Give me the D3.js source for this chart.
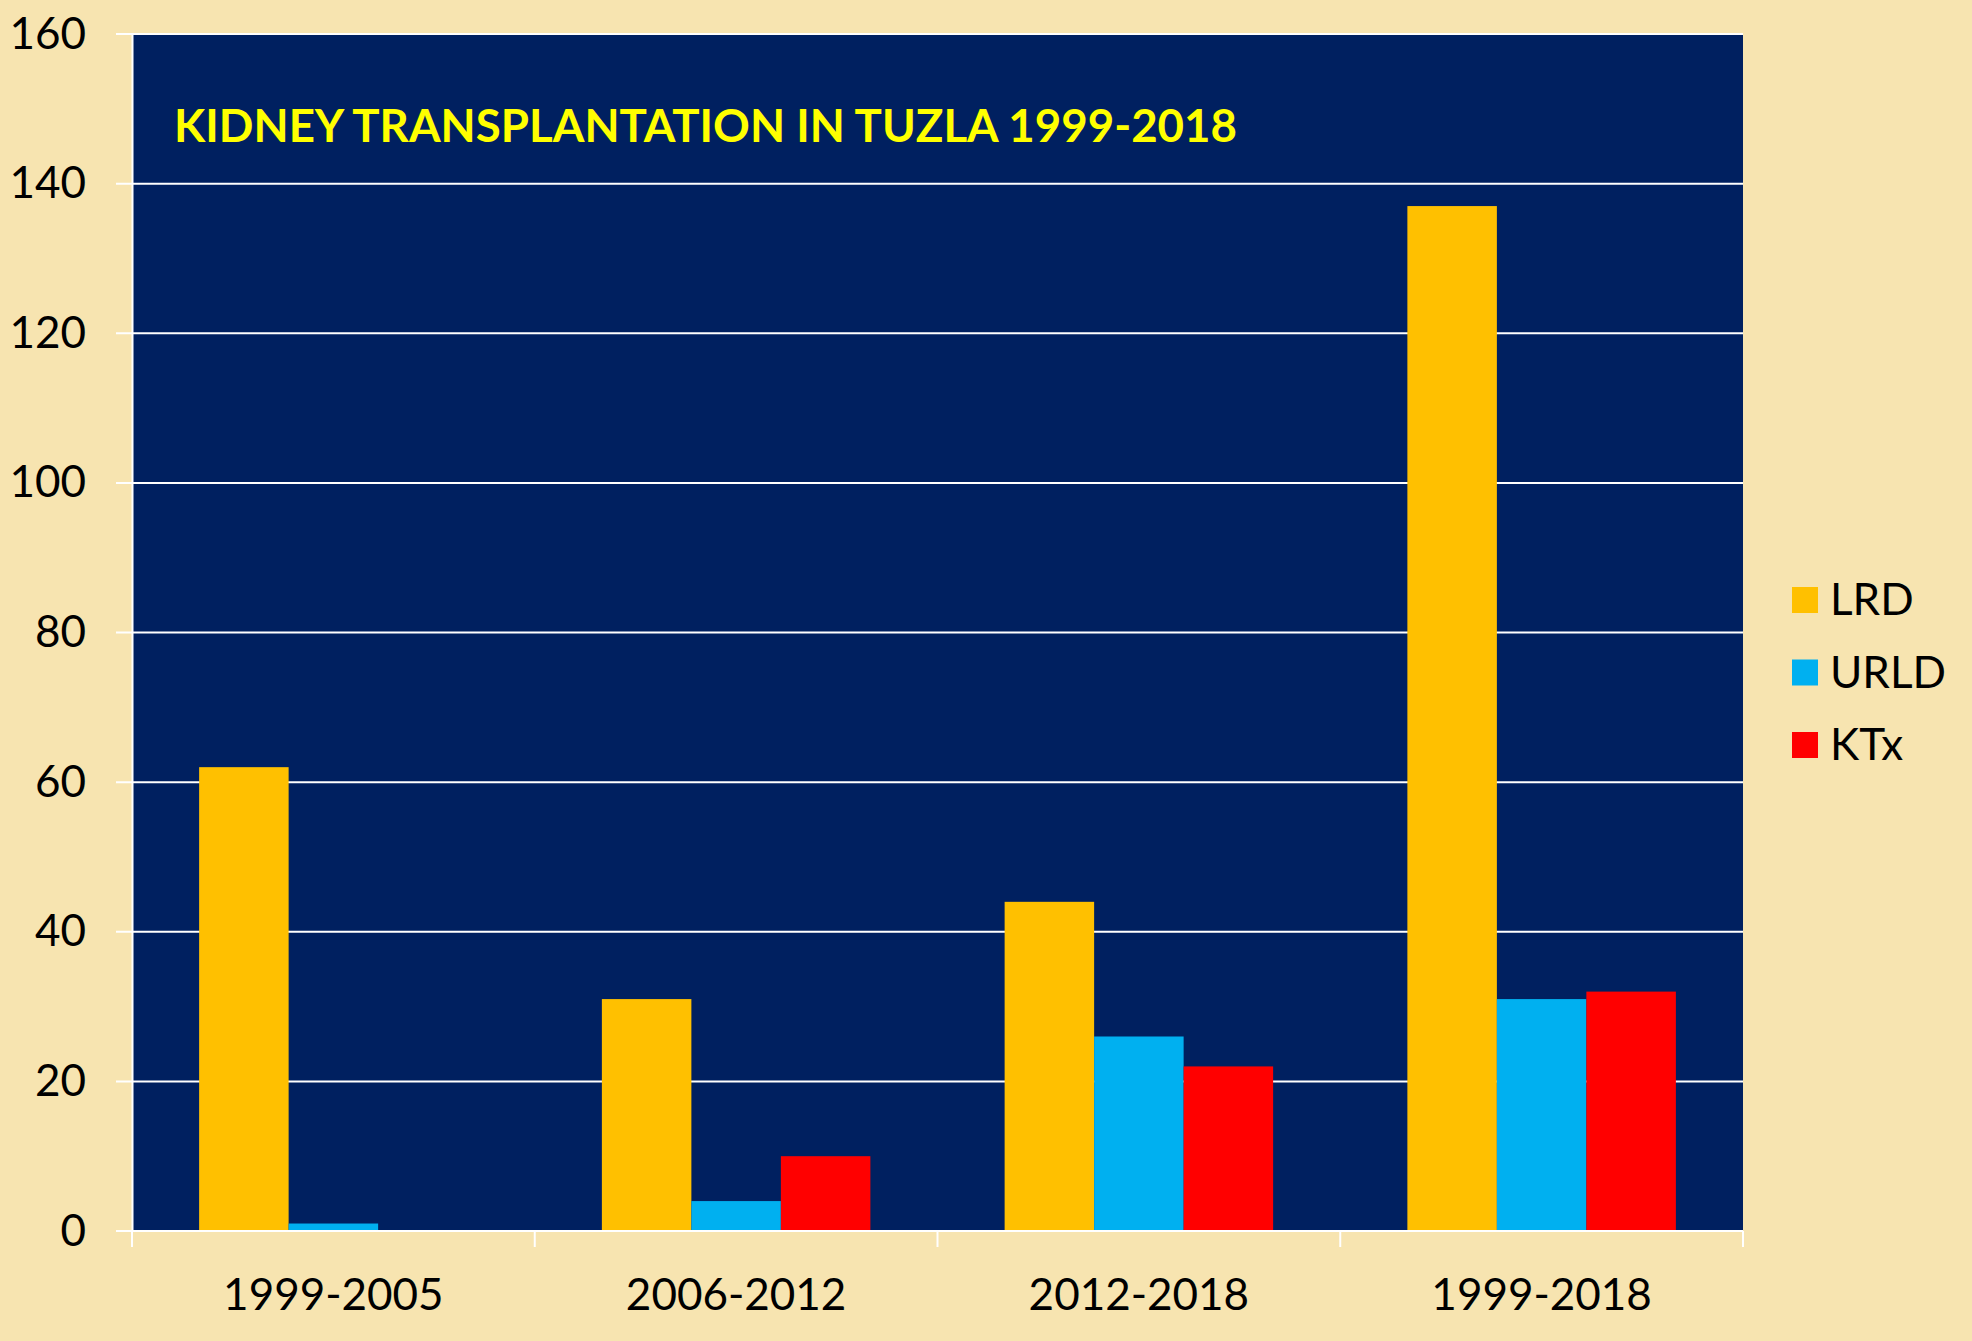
<!DOCTYPE html>
<html>
<head>
<meta charset="utf-8">
<script src="https://cdn.jsdelivr.net/npm/d3@7"></script>
<style>
  body { margin: 0; background: #F7E4B0; }
  svg { display: block; }
  text { font-family: Lato, "Open Sans", sans-serif; }
</style>
</head>
<body>
<script>
// data
var categories = ['1999-2005', '2006-2012', '2012-2018', '1999-2018'];
var series = ['LRD', 'URLD', 'KTx'];
var lrd = [62, 31, 44, 137];
var urld = [1, 4, 26, 31];
var ktx = [0, 10, 22, 32];
var yTicks = [0, 20, 40, 60, 80, 100, 120, 140, 160];
var title = 'KIDNEY TRANSPLANTATION IN TUZLA 1999-2018';

var colors = ['#FFC000', '#00B0F0', '#FF0000'];

const W = 1972, H = 1341;
const margin = { top: 34, right: 229, bottom: 110, left: 132 };
const width = W - margin.left - margin.right;
const height = H - margin.top - margin.bottom;

var values = [lrd, urld, ktx];
var rows = categories.map(function (c, i) {
	return { cat: c, vals: series.map(function (s, j) { return { key: s, idx: j, v: values[j][i] }; }) };
});

const x0 = d3.scaleBand().domain(categories).range([0, width]).padding(0);
const x1 = d3.scaleBand().domain(series)
	.range([x0.bandwidth() / 6, x0.bandwidth() * 5 / 6]);
const y = d3.scaleLinear().domain([0, 160]).range([height, 0]);

const svg = d3.select('body').append('svg')
	.attr('width', W)
	.attr('height', H);

svg.append('rect').attr('width', W).attr('height', H).attr('fill', '#F7E4B0');

const g = svg.append('g')
	.attr('transform', 'translate(' + margin.left + ',' + margin.top + ')');

// plot area
g.append('rect')
	.attr('width', width)
	.attr('height', height)
	.attr('fill', '#002060');

// gridlines with ticks sticking out to the left
g.selectAll('.grid')
	.data(yTicks)
	.enter()
	.append('line')
	.attr('class', 'grid')
	.attr('x1', -16)
	.attr('x2', width)
	.attr('y1', function (d) { return y(d); })
	.attr('y2', function (d) { return y(d); })
	.attr('stroke', '#ffffff')
	.attr('stroke-width', 2);

// bars
const groups = g.selectAll('.cat')
	.data(rows)
	.enter()
	.append('g')
	.attr('class', 'cat')
	.attr('transform', function (d) { return 'translate(' + x0(d.cat) + ',0)'; });

groups.selectAll('rect')
	.data(function (d) { return d.vals; })
	.enter()
	.append('rect')
	.attr('x', function (d) { return x1(d.key); })
	.attr('width', x1.bandwidth())
	.attr('y', function (d) { return y(d.v); })
	.attr('height', function (d) { return height - y(d.v); })
	.attr('fill', function (d) { return colors[d.idx]; });

// y axis
const yAxis = d3.axisLeft(y).tickValues(yTicks).tickSize(0).tickPadding(46);
const ya = g.append('g').call(yAxis);
ya.select('.domain').attr('stroke', '#ffffff').attr('stroke-width', 2);
ya.selectAll('text')
	.attr('font-size', 44)
	.attr('fill', '#000')
	.style('font-family', 'Lato, sans-serif');

// x axis, ticks on band edges
const xa = g.append('g').attr('transform', 'translate(0,' + height + ')');
xa.append('line')
	.attr('x1', -16).attr('x2', width)
	.attr('stroke', '#ffffff').attr('stroke-width', 2);
var edges = categories.map(function (c) { return x0(c); }).concat([width]);
xa.selectAll('.xtick')
	.data(edges)
	.enter()
	.append('line')
	.attr('class', 'xtick')
	.attr('x1', function (d) { return d; })
	.attr('x2', function (d) { return d; })
	.attr('y1', 0)
	.attr('y2', 16)
	.attr('stroke', '#ffffff')
	.attr('stroke-width', 2);
xa.selectAll('.xlabel')
	.data(categories)
	.enter()
	.append('text')
	.attr('class', 'xlabel')
	.attr('x', function (d) { return x0(d) + x0.bandwidth() / 2; })
	.attr('y', 79)
	.attr('text-anchor', 'middle')
	.attr('font-size', 44)
	.attr('fill', '#000')
	.text(function (d) { return d; });

// title
g.append('text')
	.attr('x', 42)
	.attr('y', 108)
	.attr('font-size', 46)
	.attr('font-weight', 'bold')
	.attr('fill', '#FFFF00')
	.attr('textLength', 1063)
	.attr('lengthAdjust', 'spacingAndGlyphs')
	.text(title);

// legend
const legend = svg.append('g').attr('transform', 'translate(1792,587)');
const li = legend.selectAll('.li')
	.data(series)
	.enter()
	.append('g')
	.attr('class', 'li')
	.attr('transform', function (d, i) { return 'translate(0,' + (i * 72.5) + ')'; });
li.append('rect')
	.attr('width', 26)
	.attr('height', 26)
	.attr('fill', function (d, i) { return colors[i]; });
li.append('text')
	.attr('x', 38)
	.attr('y', 13)
	.attr('dy', '0.35em')
	.attr('font-size', 44)
	.attr('fill', '#000')
	.text(function (d) { return d; });
</script>
</body>
</html>
